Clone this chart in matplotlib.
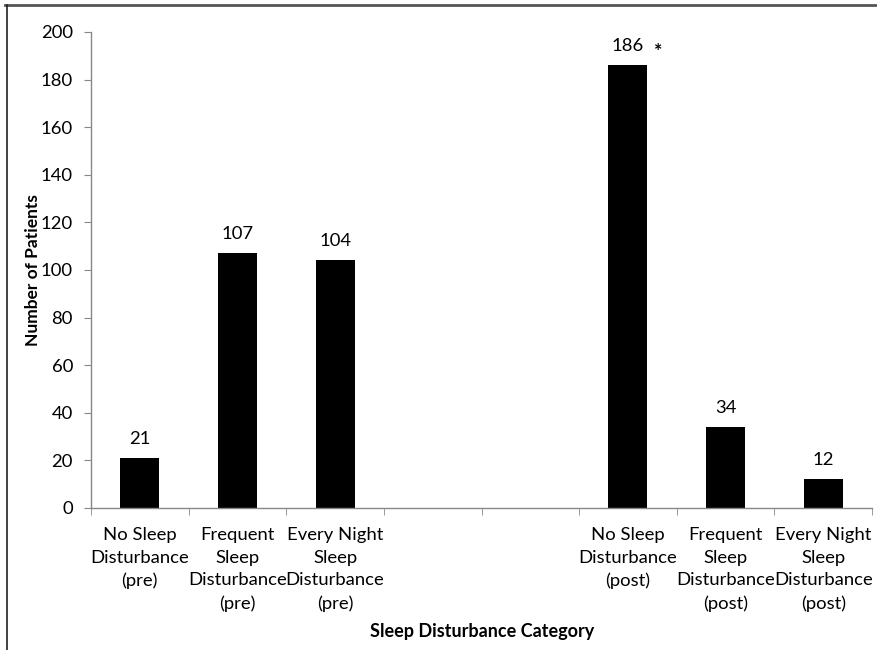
import matplotlib
matplotlib.use("Agg")
import matplotlib.pyplot as plt
from matplotlib.lines import Line2D
import numpy as np

categories = [
    "No Sleep\nDisturbance\n(pre)",
    "Frequent\nSleep\nDisturbance\n(pre)",
    "Every Night\nSleep\nDisturbance\n(pre)",
    "",
    "",
    "No Sleep\nDisturbance\n(post)",
    "Frequent\nSleep\nDisturbance\n(post)",
    "Every Night\nSleep\nDisturbance\n(post)",
]
values = [21, 107, 104, np.nan, np.nan, 186, 34, 12]
value_labels = ["21", "107", "104", "", "", "186", "34", "12"]
y_ticks = list(range(0, 201, 20))

plt.rcParams['font.family'] = ['Lato', 'DejaVu Sans']
FS = 13.3

fig = plt.figure(figsize=(8.77, 6.5), dpi=100)
ax = fig.add_axes([91/877, 1-508/650, (872-91)/877, (508-32)/650])

x = np.arange(len(categories))
ax.bar(x, values, width=0.4, color='black')

for xi, v, lab in zip(x, values, value_labels):
    if lab:
        ax.annotate(lab, (xi, v), xytext=(0, 8), textcoords='offset points',
                    ha='center', va='bottom', fontsize=FS)
ax.annotate("*", (5, 186), xytext=(22, 2), textcoords='offset points',
            ha='center', va='bottom', fontsize=FS + 1, fontweight='bold')

ax.set_xlim(-0.5, len(categories) - 0.5)
ax.set_ylim(0, 200)
ax.set_yticks(y_ticks)
ax.tick_params(axis='y', labelsize=FS, length=5, color='#888888', pad=8)

ax.set_xticks(x)
ax.set_xticklabels(categories, fontsize=FS, linespacing=1.5)
ax.tick_params(axis='x', which='major', length=0, pad=14)
ax.set_xticks(np.arange(-0.5, len(categories), 1.0), minor=True)
ax.tick_params(axis='x', which='minor', length=5, color='#888888')

for s in ['top', 'right']:
    ax.spines[s].set_visible(False)
for s in ['left', 'bottom']:
    ax.spines[s].set_color('#888888')
    ax.spines[s].set_linewidth(1.0)

ax.set_ylabel("Number of Patients", fontsize=12.5, fontweight='bold', labelpad=0)
fig.text(482/877, 1-632/650, "Sleep Disturbance Category", ha='center', va='center',
         fontsize=13, fontweight='bold')

# figure frame lines (top and left)
fig.add_artist(Line2D([5/877, 1], [1-5/650, 1-5/650], transform=fig.transFigure,
                      color='#555555', linewidth=2))
fig.add_artist(Line2D([7/877, 7/877], [0, 1-5/650], transform=fig.transFigure,
                      color='#222222', linewidth=1.2))

fig.savefig("out.png", dpi=100)
